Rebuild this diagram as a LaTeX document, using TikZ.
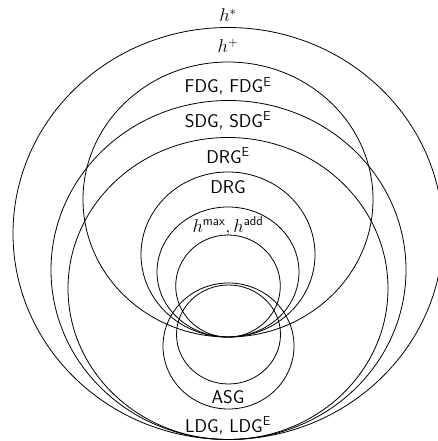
\documentclass[tikz,border=0pt]{standalone}
\usepackage{fix-cm}
\usepackage{fontspec}
\begin{document}
\begin{tikzpicture}[x=1pt,y=-1pt,
  setline/.style={draw=black, line width=0.8pt},
  lab/.style={anchor=base, inner sep=0pt, font=\fontsize{18.5}{22}\selectfont\sffamily}]
\useasboundingbox (0,0) rectangle (438,441);
\clip (0,0) rectangle (438,441);
% outer family (tangent at bottom)
\draw[setline] (228,233.5) ellipse [x radius=215pt, y radius=206pt];
\draw[setline] (228.5,270) ellipse [x radius=177.5pt, y radius=169.5pt];
\draw[setline] (228,288.5) ellipse [x radius=160pt, y radius=151pt];
% inner family (tangent at 337)
\draw[setline] (228,199.5) ellipse [x radius=145pt, y radius=137.5pt];
\draw[setline] (228,254.5) ellipse [x radius=87pt, y radius=82.5pt];
\draw[setline] (228,272) ellipse [x radius=71pt, y radius=65pt];
\draw[setline] (228,286) ellipse [x radius=52.3pt, y radius=51pt];
% bottom circles
\draw[setline] (228.5,334.5) ellipse [x radius=52pt, y radius=49.5pt];
\draw[setline] (228.5,346) ellipse [x radius=65.5pt, y radius=63pt];
% labels
\node[lab] (lhstar) at (228,22) {$h^*$};
\node[lab] (lhplus) at (228,53) {$h^+$};
\node[lab] (lfdg) at (228,93) {FDG, FDG$^{\mathsf{E}}$};
\node[lab] (lsdg) at (228,127.5) {SDG, SDG$^{\mathsf{E}}$};
\node[lab] (ldrge) at (228,163) {DRG$^{\mathsf{E}}$};
\node[lab] (ldrg) at (228,193.5) {DRG};
\node[lab] (lhmax) at (228,232) {$h^{\mathsf{max}},h^{\mathsf{add}}$};
\node[lab] (lasg) at (228,403.5) {ASG};
\node[lab] (lldg) at (228,432) {LDG, LDG$^{\mathsf{E}}$};
\end{tikzpicture}
\end{document}
